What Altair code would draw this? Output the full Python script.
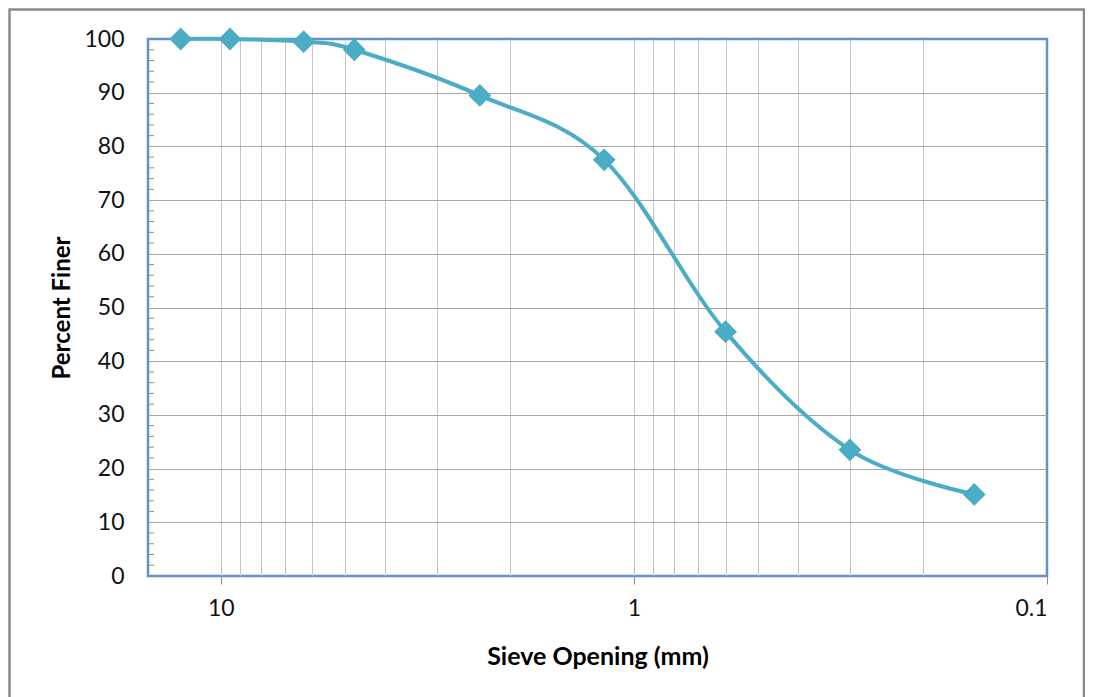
import altair as alt
import pandas as pd

# Data
sieve_mm = [12.5, 9.5, 6.3, 4.75, 2.36, 1.18, 0.6, 0.3, 0.15]
percent_finer = [100, 100, 99.5, 98.0, 89.5, 77.5, 45.5, 23.5, 15.2]

x_label_values = [10, 1, 0.1]
x_grid_values = [0.1, 0.2, 0.3, 0.4, 0.5, 0.6, 0.7, 0.8, 0.9,
                 1, 2, 3, 4, 5, 6, 7, 8, 9, 10]
y_label_values = [0, 10, 20, 30, 40, 50, 60, 70, 80, 90, 100]
y_minor_values = [v for v in range(2, 100, 2) if v % 10 != 0]

W, H = 899, 537
FONT = "Lato"
LINE_COLOR = "#4BACC6"

df = pd.DataFrame({"sieve": sieve_mm, "pct": percent_finer})
yminor_df = pd.DataFrame({"pct": y_minor_values})
frame_df = pd.DataFrame({"k": [0]})

xscale = alt.Scale(type="log", domain=[0.1, 15], reverse=True, nice=False)
yscale = alt.Scale(domain=[0, 100], nice=False, zero=True)

label_test = "datum.value == 10 || datum.value == 1 || abs(datum.value - 0.1) < 1e-9"

x_enc = alt.X(
    "sieve:Q",
    scale=xscale,
    axis=alt.Axis(
        values=x_grid_values,
        labelExpr="(" + label_test + ") ? format(datum.value, '~g') : ''",
        title="Sieve Opening (mm)",
        grid=True,
        gridColor="#C4C4C4",
        gridWidth=1,
        gridOpacity={"condition": {"test": "abs(datum.value - 0.1) < 1e-9", "value": 0}, "value": 1},
        domain=False,
        ticks=True,
        tickColor="#8C8C8C",
        tickSize=8,
        tickWidth=1,
        tickOpacity={"condition": {"test": label_test, "value": 1}, "value": 0},
        labelPadding=13,
        labelFont=FONT,
        labelFontSize=23,
        labelColor="#111111",
        labelOverlap=False,
        titleFont=FONT,
        titleFontSize=25,
        titleFontWeight="bold",
        titleColor="#000000",
        titleY=80,
        titleBaseline="middle",
    ),
)

y_enc = alt.Y(
    "pct:Q",
    scale=yscale,
    axis=alt.Axis(
        values=y_label_values,
        title="Percent Finer",
        grid=True,
        gridColor="#A6A6A6",
        gridWidth=1,
        gridOpacity={"condition": {"test": "datum.value > 0 && datum.value < 100", "value": 1}, "value": 0},
        domain=False,
        ticks=False,
        labelPadding=24,
        labelFont=FONT,
        labelFontSize=23,
        labelColor="#111111",
        titleFont=FONT,
        titleFontSize=24,
        titleFontWeight="bold",
        titleColor="#000000",
        titleAngle=270,
        titleX=-86,
        titleY=H / 2,
        titleAlign="center",
        titleBaseline="middle",
    ),
)

frame = alt.Chart(frame_df).mark_rect(
    fill=None, stroke="#8A8A8A", strokeWidth=2.5
).encode(
    x=alt.value(-138.5), x2=alt.value(936), y=alt.value(-29.5), y2=alt.value(700)
)

yminor = alt.Chart(yminor_df).mark_rule(color="#8C8C8C", strokeWidth=1).encode(
    y=y_enc,
    x=alt.value(0), x2=alt.value(6),
)

base = alt.Chart(df).encode(x=x_enc, y=y_enc)

line = base.mark_line(
    color=LINE_COLOR, strokeWidth=4, interpolate="cardinal", tension=0
)
points = base.mark_point(
    shape="diamond", size=520, filled=True, color=LINE_COLOR, opacity=1
)

chart = alt.layer(frame, yminor, line, points).properties(
    width=W,
    height=H,
    padding={"left": 140, "top": 31, "right": 38, "bottom": 121},
    autosize=alt.AutoSizeParams(type="none"),
).configure(background="white").configure_view(
    stroke="#6690C8", strokeWidth=2.5
)

chart.save("out.html", embed_options={"renderer": "svg", "actions": False})
